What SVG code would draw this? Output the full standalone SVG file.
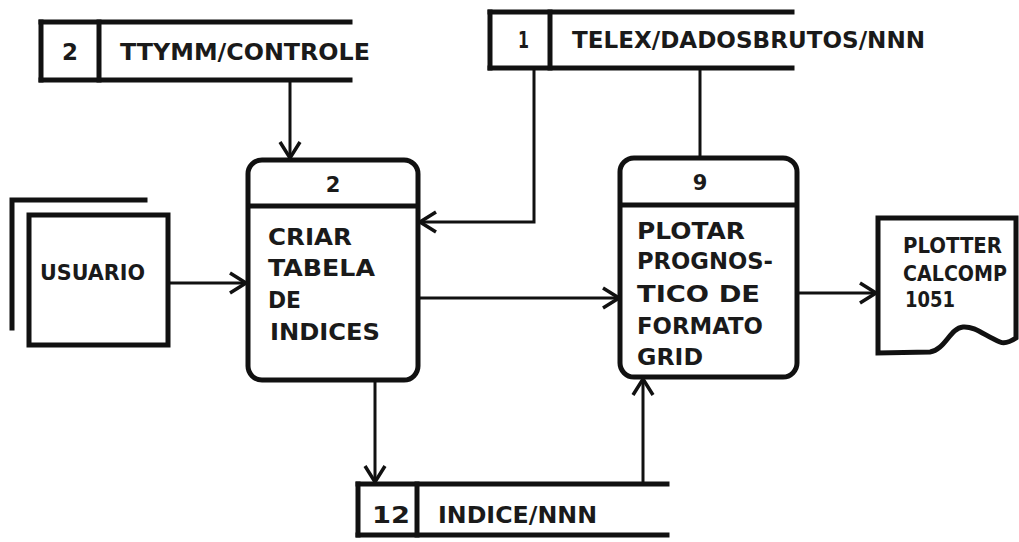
<svg xmlns="http://www.w3.org/2000/svg" width="1019" height="542" viewBox="0 0 1019 542">
  <style>
    .bg { fill: #ffffff; }
    .box { fill: #ffffff; stroke: #111; stroke-width: 5; }
    .thick { fill: none; stroke: #111; stroke-width: 5; stroke-linecap: square; }
    .conn { fill: none; stroke: #111; stroke-width: 3; }
    .t { font-family: "DejaVu Sans", "Liberation Sans", sans-serif; font-weight: bold; fill: #1a1a1a; }
    .big { font-size: 23px; }
    .mid { font-size: 21px; }
  </style>
  <defs>
    <marker id="arr" viewBox="0 0 20 24" refX="19" refY="12" markerWidth="20" markerHeight="24" markerUnits="userSpaceOnUse" orient="auto">
      <path d="M3,2 L19,12 L3,22" fill="none" stroke="#111" stroke-width="3.5"/>
    </marker>
  </defs>
  <rect class="bg" x="0" y="0" width="1019" height="542"/>

  <g id="connectors">
    <line class="conn" x1="290" y1="80" x2="290" y2="158" marker-end="url(#arr)"/>
    <polyline class="conn" points="534,68 534,222 420,222" marker-end="url(#arr)"/>
    <line class="conn" x1="700" y1="68" x2="700" y2="158"/>
    <line class="conn" x1="168" y1="283" x2="246" y2="283" marker-end="url(#arr)"/>
    <line class="conn" x1="420" y1="298" x2="619" y2="298" marker-end="url(#arr)"/>
    <line class="conn" x1="797" y1="293" x2="876" y2="293" marker-end="url(#arr)"/>
    <line class="conn" x1="375" y1="380" x2="375" y2="482" marker-end="url(#arr)"/>
    <line class="conn" x1="643" y1="482" x2="643" y2="379" marker-end="url(#arr)"/>
  </g>

  <g id="store-ttymm">
    <line class="thick" x1="41" y1="22" x2="350" y2="22"/>
    <line class="thick" x1="41" y1="80" x2="350" y2="80"/>
    <line class="thick" x1="41" y1="22" x2="41" y2="80"/>
    <line class="thick" x1="99" y1="22" x2="99" y2="80"/>
    <text class="t big" x="62" y="60" textLength="16" lengthAdjust="spacingAndGlyphs">2</text>
    <text class="t big" x="120" y="60" textLength="250" lengthAdjust="spacingAndGlyphs">TTYMM/CONTROLE</text>
  </g>

  <g id="store-telex">
    <line class="thick" x1="490" y1="12" x2="792" y2="12"/>
    <line class="thick" x1="490" y1="68" x2="792" y2="68"/>
    <line class="thick" x1="490" y1="12" x2="490" y2="68"/>
    <line class="thick" x1="550" y1="12" x2="550" y2="68"/>
    <text class="t big" x="518" y="48" textLength="11" lengthAdjust="spacingAndGlyphs">1</text>
    <text class="t big" x="572" y="48" textLength="353" lengthAdjust="spacingAndGlyphs">TELEX/DADOSBRUTOS/NNN</text>
  </g>

  <g id="usuario">
    <polyline class="thick" points="145,200 12,200 12,328"/>
    <rect class="box" x="29" y="215" width="139" height="130"/>
    <text class="t mid" x="40" y="280" textLength="105" lengthAdjust="spacingAndGlyphs">USUARIO</text>
  </g>

  <g id="process-2">
    <rect class="box" x="248" y="160" width="170" height="220" rx="14" ry="14"/>
    <line class="thick" x1="250" y1="206" x2="416" y2="206"/>
    <text class="t mid" x="333" y="192" text-anchor="middle">2</text>
    <text class="t big" x="268" y="245" textLength="84" lengthAdjust="spacingAndGlyphs">CRIAR</text>
    <text class="t big" x="268" y="276" textLength="107" lengthAdjust="spacingAndGlyphs">TABELA</text>
    <text class="t big" x="268" y="308" textLength="33" lengthAdjust="spacingAndGlyphs">DE</text>
    <text class="t big" x="270" y="340" textLength="110" lengthAdjust="spacingAndGlyphs">INDICES</text>
  </g>

  <g id="process-9">
    <rect class="box" x="620" y="158" width="177" height="219" rx="14" ry="14"/>
    <line class="thick" x1="622" y1="205" x2="795" y2="205"/>
    <text class="t mid" x="700" y="190" text-anchor="middle">9</text>
    <text class="t big" x="637" y="239" textLength="108" lengthAdjust="spacingAndGlyphs">PLOTAR</text>
    <text class="t big" x="637" y="269" textLength="136" lengthAdjust="spacingAndGlyphs">PROGNOS-</text>
    <text class="t big" x="637" y="302" textLength="123" lengthAdjust="spacingAndGlyphs">TICO DE</text>
    <text class="t big" x="637" y="334" textLength="126" lengthAdjust="spacingAndGlyphs">FORMATO</text>
    <text class="t big" x="637" y="365" textLength="66" lengthAdjust="spacingAndGlyphs">GRID</text>
  </g>

  <g id="plotter">
    <path class="box" d="M878,218 L1016,218 L1016,338 C1010,342 1005,344 1000,342 C985,336 975,326 963,327 C950,328 945,350 930,352 L878,353 Z"/>
    <text class="t mid" x="903" y="253" textLength="99" lengthAdjust="spacingAndGlyphs">PLOTTER</text>
    <text class="t mid" x="903" y="281" textLength="104" lengthAdjust="spacingAndGlyphs">CALCOMP</text>
    <text class="t mid" x="905" y="307" textLength="50" lengthAdjust="spacingAndGlyphs">1051</text>
  </g>

  <g id="store-indice">
    <line class="thick" x1="358" y1="484" x2="667" y2="484"/>
    <line class="thick" x1="358" y1="535" x2="667" y2="535"/>
    <line class="thick" x1="358" y1="484" x2="358" y2="535"/>
    <line class="thick" x1="417" y1="484" x2="417" y2="535"/>
    <text class="t big" x="372" y="523" textLength="38" lengthAdjust="spacingAndGlyphs">12</text>
    <text class="t big" x="438" y="523" textLength="159" lengthAdjust="spacingAndGlyphs">INDICE/NNN</text>
  </g>
</svg>
